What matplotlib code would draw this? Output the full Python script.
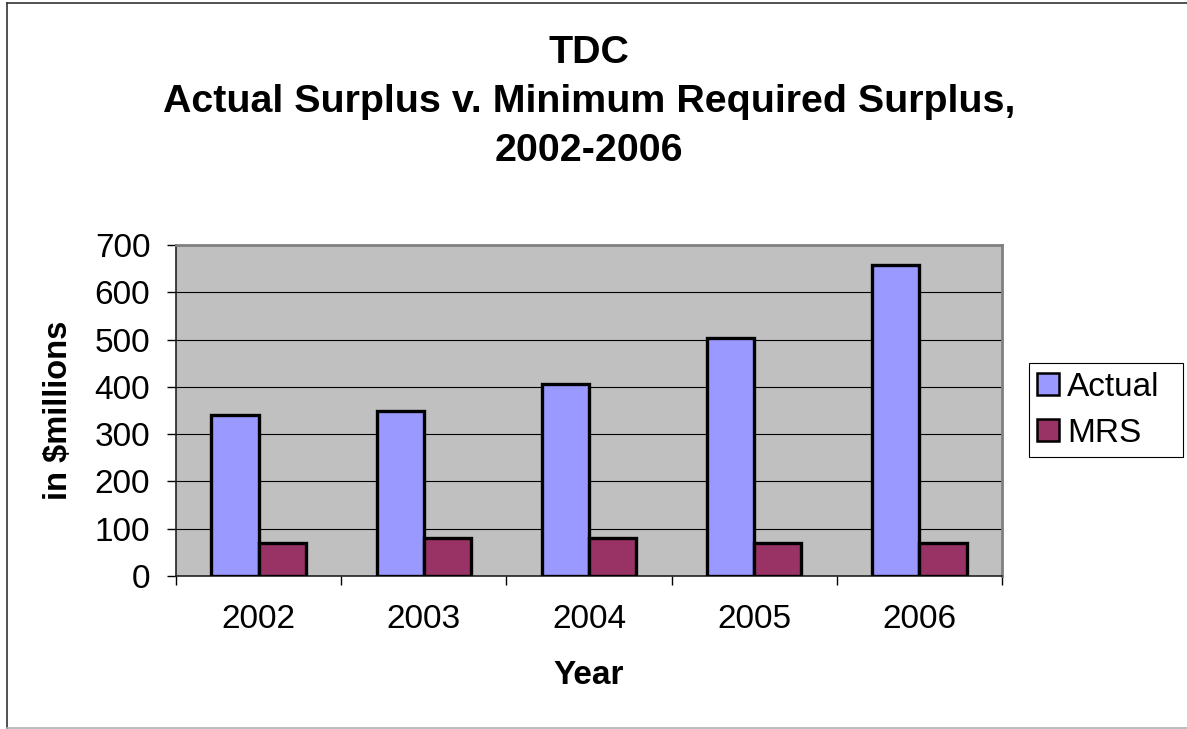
import matplotlib
matplotlib.use("Agg")
import matplotlib.pyplot as plt
import numpy as np
from matplotlib.lines import Line2D
from matplotlib.patches import Patch, Rectangle

years = ["2002", "2003", "2004", "2005", "2006"]
actual = [340, 350, 405, 503, 657]
mrs = [70, 80, 80, 70, 70]
series_names = ["Actual", "MRS"]
y_ticks = [0, 100, 200, 300, 400, 500, 600, 700]

plt.rcParams["font.family"] = ["Liberation Sans", "DejaVu Sans"]

W, H = 1187, 729
fig = plt.figure(figsize=(W / 100, H / 100), dpi=100)
fig.patch.set_facecolor("white")

# outer chart frame: dark left/top edges, light bottom edge
fx0, fy_top, fy_bot = 6.5 / W, 1 - 3 / H, 1 - 728 / H
fig.add_artist(Line2D([fx0, fx0], [fy_bot, fy_top], transform=fig.transFigure,
                      color="#333333", linewidth=1.2))
fig.add_artist(Line2D([fx0, 1.0], [fy_top, fy_top], transform=fig.transFigure,
                      color="#333333", linewidth=1.2))
fig.add_artist(Line2D([fx0, 1.0], [fy_bot, fy_bot], transform=fig.transFigure,
                      color="#B0B0B0", linewidth=1.2))

ax = fig.add_axes([176 / W, (H - 576) / H, (1002 - 176) / W, (576 - 245) / H])
ax.set_facecolor("#C0C0C0")

x = np.arange(len(years))
bw = 0.2857
ax.bar(x - bw / 2, actual, width=bw, color="#9999FF", edgecolor="black", linewidth=2.4, zorder=3)
ax.bar(x + bw / 2, mrs, width=bw, color="#993366", edgecolor="black", linewidth=2.4, zorder=3)

ax.set_xlim(-0.5, len(years) - 0.5)
ax.set_ylim(0, 700)
ax.set_yticks(y_ticks)
ax.yaxis.grid(True, color="black", linewidth=0.8, zorder=1)
ax.set_axisbelow(True)

ax.set_xticks(x)
ax.set_xticklabels(years, fontsize=24)
ax.set_xticks(np.arange(-0.5, len(years)), minor=True)
ax.tick_params(axis="x", which="major", length=0, pad=20)
ax.tick_params(axis="x", which="minor", length=6.5, width=1, color="black")
ax.tick_params(axis="y", which="major", length=6.5, width=1, color="black", pad=12, labelsize=24)

for side in ("top", "right"):
    ax.spines[side].set_color("#808080")
    ax.spines[side].set_linewidth(2)
for side in ("left", "bottom"):
    ax.spines[side].set_color("#222222")
    ax.spines[side].set_linewidth(1.2)

fig.text(589 / W, 1 - 102 / H, "TDC\nActual Surplus v. Minimum Required Surplus,\n2002-2006",
         ha="center", va="center", fontsize=28.4, fontweight="bold", linespacing=1.48)
fig.text(589 / W, 1 - 676 / H, "Year", ha="center", va="center", fontsize=24, fontweight="bold")
fig.text(58 / W, 1 - 410 / H, "in $millions", ha="center", va="center", rotation=90,
         fontsize=23.5, fontweight="bold")

# legend box with extra room on the right
fig.add_artist(Rectangle((1029 / W, 1 - 457 / H), (1183 - 1029) / W, (457 - 363) / H,
                         transform=fig.transFigure, facecolor="white",
                         edgecolor="black", linewidth=0.8))
handles = [Patch(facecolor="#9999FF", edgecolor="black", linewidth=1.8),
           Patch(facecolor="#993366", edgecolor="black", linewidth=1.8)]
leg = fig.legend(handles, series_names, loc="center left",
                 bbox_to_anchor=(1037 / W, 1 - 410 / H), bbox_transform=fig.transFigure,
                 fontsize=24, frameon=False,
                 handlelength=0.65, handleheight=0.65, handletextpad=0.25,
                 borderpad=0.0, labelspacing=0.45, borderaxespad=0)

fig.savefig("out.png", dpi=100)
